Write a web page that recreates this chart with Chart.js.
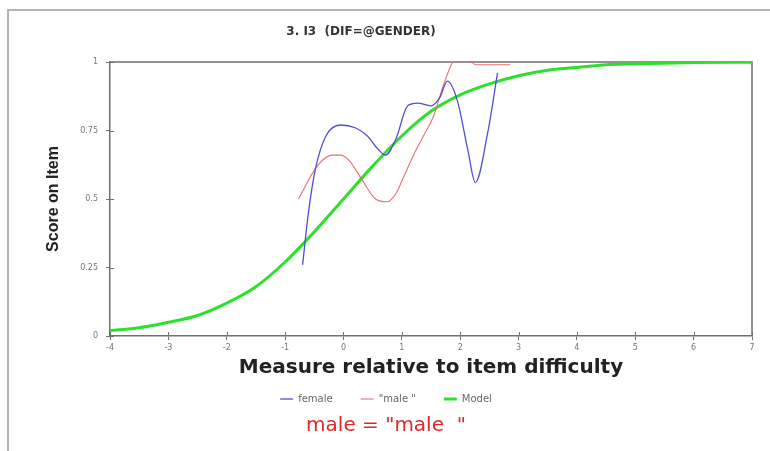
<!DOCTYPE html>
<html>
<head>
<meta charset="utf-8">
<script src="https://cdn.jsdelivr.net/npm/chart.js@4"></script>
<style>
  body { margin: 0; background: #fff; }
  #wrap { width: 770px; height: 451px; }
</style>
</head>
<body>
<div id="wrap"><canvas id="chart" width="770" height="451"></canvas></div>
<script>
// values
const xTickValues = [-4, -3, -2, -1, 0, 1, 2, 3, 4, 5, 6, 7];
const yTickValues = [0, 0.25, 0.5, 0.75, 1];

const femaleX = [-0.7, -0.6, -0.48, -0.3, -0.05, 0.2, 0.41, 0.6, 0.72, 0.9, 1.1, 1.27, 1.5, 1.65, 1.78, 1.95, 2.13, 2.26, 2.47, 2.64];
const femaleY = [0.26, 0.45, 0.61, 0.73, 0.77, 0.76, 0.73, 0.68, 0.66, 0.72, 0.84, 0.85, 0.84, 0.87, 0.93, 0.86, 0.68, 0.56, 0.74, 0.96];

const maleX = [-0.77, -0.45, -0.2, -0.05, 0.1, 0.29, 0.55, 0.75, 0.9, 1.03, 1.2, 1.37, 1.54, 1.72, 1.87, 2.05, 2.26, 2.5, 2.86];
const maleY = [0.5, 0.62, 0.66, 0.66, 0.64, 0.58, 0.5, 0.49, 0.52, 0.58, 0.66, 0.73, 0.8, 0.92, 1.0, 1.04, 0.99, 0.99, 0.99];

const modelX = [-4, -3.5, -3, -2.5, -2, -1.5, -1, -0.5, 0, 0.5, 1, 1.5, 2, 2.5, 3, 3.5, 4, 4.5, 5, 6, 7];
const modelY = [0.02, 0.03, 0.05, 0.075, 0.12, 0.18, 0.27, 0.38, 0.5, 0.62, 0.73, 0.82, 0.88, 0.92, 0.95, 0.97, 0.98, 0.99, 0.993, 0.998, 0.999];

const chartTitle = '3. I3  (DIF=@GENDER)';

const toPoints = (xs, ys) => xs.map((x, i) => ({ x: x, y: ys[i] }));

const FONT = "'DejaVu Sans', 'Liberation Sans', Arial, sans-serif";

// page border, title, box round the plot, ticks that cross the axes
const framePlugin = {
    id: 'frame',
    beforeDraw(chart) {
        const ctx = chart.ctx;
        ctx.save();
        ctx.fillStyle = '#fff';
        ctx.fillRect(0, 0, chart.width, chart.height);
        ctx.strokeStyle = '#b4b4b4';
        ctx.lineWidth = 2;
        ctx.beginPath();
        ctx.moveTo(8, chart.height);
        ctx.lineTo(8, 10);
        ctx.lineTo(chart.width, 10);
        ctx.stroke();
        ctx.fillStyle = '#333';
        ctx.font = 'bold 12px ' + FONT;
        ctx.textAlign = 'center';
        ctx.textBaseline = 'middle';
        ctx.fillText(chartTitle, 361, 32);
        ctx.restore();
    },
    beforeDatasetsDraw(chart) {
        const { ctx, chartArea: a, scales } = chart;
        ctx.save();
        ctx.strokeStyle = '#707070';
        ctx.lineWidth = 1.5;
        ctx.beginPath();
        ctx.moveTo(a.left, a.top);
        ctx.lineTo(a.right, a.top);
        ctx.lineTo(a.right, a.bottom);
        ctx.stroke();
        ctx.lineWidth = 1;
        ctx.beginPath();
        scales.x.ticks.forEach(t => {
            const px = Math.round(scales.x.getPixelForValue(t.value)) + 0.5;
            ctx.moveTo(px, a.bottom);
            ctx.lineTo(px, a.bottom - 4);
        });
        scales.y.ticks.forEach(t => {
            const py = Math.round(scales.y.getPixelForValue(t.value)) + 0.5;
            ctx.moveTo(a.left, py);
            ctx.lineTo(a.left + 4, py);
        });
        ctx.stroke();
        ctx.restore();
    }
};

new Chart(document.getElementById('chart'), {
    type: 'line',
    data: {
        datasets: [
            {
                label: 'female',
                data: toPoints(femaleX, femaleY),
                borderColor: '#4f4fd6',
                borderWidth: 1.3,
                cubicInterpolationMode: 'monotone',
                pointRadius: 0
            },
            {
                label: '"male "',
                data: toPoints(maleX, maleY),
                borderColor: '#e87070',
                borderWidth: 1.1,
                cubicInterpolationMode: 'monotone',
                pointRadius: 0
            },
            {
                label: 'Model',
                data: toPoints(modelX, modelY),
                borderColor: '#2ee02e',
                borderWidth: 3,
                cubicInterpolationMode: 'monotone',
                pointRadius: 0
            }
        ]
    },
    options: {
        responsive: false,
        animation: false,
        layout: { padding: { left: 20, right: 18, bottom: 0, top: 62 } },
        plugins: {
            title: { display: false },
            subtitle: {
                display: true,
                position: 'bottom',
                text: 'male = "male  "',
                color: '#e02828',
                font: { family: FONT, size: 20 },
                padding: { top: 0, bottom: 13 }
            },
            legend: {
                position: 'bottom',
                labels: {
                    color: '#666',
                    font: { family: FONT, size: 10 },
                    usePointStyle: true,
                    pointStyle: 'line',
                    pointStyleWidth: 13,
                    boxHeight: 10,
                    padding: 28
                }
            },
            tooltip: { enabled: false }
        },
        scales: {
            x: {
                type: 'linear',
                min: -4,
                max: 7,
                afterBuildTicks: s => { s.ticks = xTickValues.map(v => ({ value: v })); },
                afterFit: s => { s.height = 30; },
                ticks: {
                    color: '#777',
                    font: { family: FONT, size: 8 },
                    padding: 3,
                    maxRotation: 0,
                    callback: v => String(v)
                },
                grid: { drawOnChartArea: false, tickLength: 4, color: '#707070' },
                border: { color: '#707070', width: 1.5 },
                title: {
                    display: true,
                    text: 'Measure relative to item difficulty',
                    color: '#222',
                    font: { family: FONT, size: 20, weight: 'bold' },
                    padding: { top: 0, bottom: -14 }
                }
            },
            y: {
                min: 0,
                max: 1,
                afterBuildTicks: s => { s.ticks = yTickValues.map(v => ({ value: v })); },
                afterFit: s => { s.width = 90; },
                ticks: {
                    color: '#777',
                    font: { family: FONT, size: 8 },
                    padding: 8,
                    callback: v => String(v)
                },
                grid: { drawOnChartArea: false, tickLength: 4, color: '#707070' },
                border: { color: '#707070', width: 1.5 },
                title: {
                    display: true,
                    text: 'Score on Item',
                    color: '#222',
                    font: { family: "'Liberation Sans', Arial, sans-serif", size: 16, weight: 'bold' },
                    padding: { top: 24, bottom: 0 }
                }
            }
        }
    },
    plugins: [framePlugin]
});
</script>
</body>
</html>
